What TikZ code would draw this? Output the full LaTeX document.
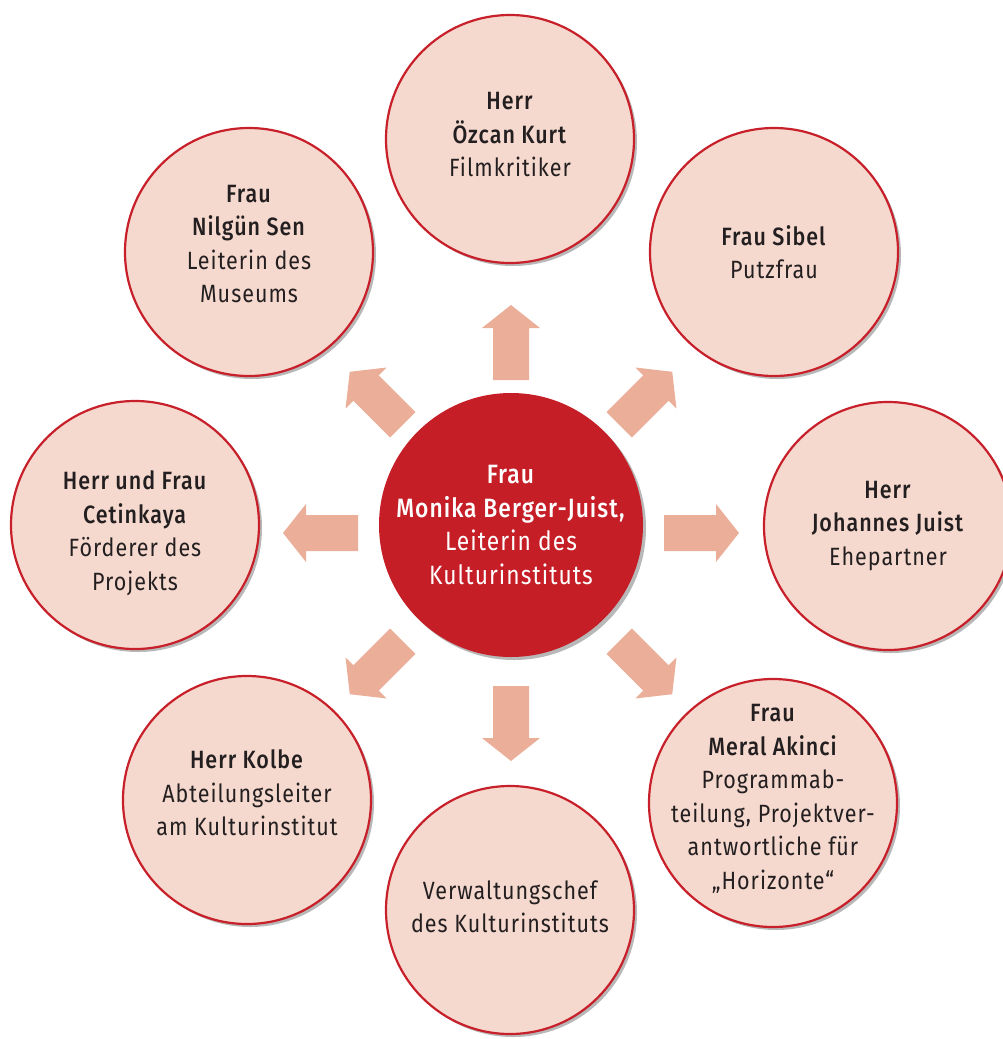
\documentclass[tikz,border=0pt]{standalone}
\usepackage{fontspec}
\setmainfont{Fira Sans}[FakeStretch=0.86, LetterSpace=4, BoldFont={Fira Sans Medium}]
\usetikzlibrary{shadows}
\definecolor{ringred}{HTML}{C8202A}
\definecolor{centerred}{HTML}{C61E26}
\definecolor{pale}{HTML}{F6D9CE}
\definecolor{arrowc}{HTML}{EBAE98}
\definecolor{txt}{HTML}{231F20}
\tikzset{
  soft shadow/.style={drop shadow={shadow xshift=3pt, shadow yshift=-3pt, opacity=0.28, fill=black}},
  person/.style={circle, draw=ringred, line width=2.2pt, fill=pale, minimum size=248pt,
    inner sep=0pt, soft shadow},
  persontext/.style={inner sep=0pt, align=center, text=txt, font=\fontsize{25}{33.5}\selectfont},
  chief/.style={circle, fill=centerred, minimum size=264pt, inner sep=0pt, align=center,
    text=white, font=\fontsize{26.5}{33.5}\selectfont, soft shadow},
  blockarrow/.style={fill=arrowc, draw=none}
}
\begin{document}
\begin{tikzpicture}[x=1pt,y=-1pt]
\useasboundingbox (0,0) rectangle (1002,1039);
% block arrows
\foreach \a in {0,45,...,315}{
  \begin{scope}[shift={(511,533)}, rotate=\a]
    \fill[blockarrow] (153,-18) -- (205,-18) -- (205,-29) -- (228,0) -- (205,29) -- (205,18) -- (153,18) -- cycle;
  \end{scope}
}
\node[chief] (c) at (511,525) {\textbf{Frau}\\\textbf{Monika Berger-Juist,}\\Leiterin des\\Kulturinstituts};
\node[person] (n) at (510,139) {};
\node[person] (ne) at (774,252) {};
\node[person] (e) at (888,526) {};
\node[person] (se) at (773,803) {};
\node[person] (s) at (510,910) {};
\node[person] (sw) at (247,800) {};
\node[person] (w) at (135,525) {};
\node[person] (nw) at (249,252) {};
\node[persontext] (nt) at ([yshift=4pt]n.center) {\textbf{Herr}\\\textbf{Özcan Kurt}\\Filmkritiker};
\node[persontext] (net) at (ne.center) {\textbf{Frau Sibel}\\Putzfrau};
\node[persontext] (et) at (e.center) {\textbf{Herr}\\\textbf{Johannes Juist}\\Ehepartner};
\node[persontext] (set) at ([yshift=4pt]se.center) {\textbf{Frau}\\\textbf{Meral Akinci}\\Programmab-\\teilung, Projektver-\\antwortliche für\\„Horizonte“};
\node[persontext] (st) at ([yshift=3pt]s.center) {Verwaltungschef\\des Kulturinstituts};
\node[persontext] (swt) at ([yshift=7pt]sw.center) {\textbf{Herr Kolbe}\\Abteilungsleiter\\am Kulturinstitut};
\node[persontext] (wt) at ([yshift=-8pt]w.center) {\textbf{Herr und Frau}\\\textbf{Cetinkaya}\\Förderer des\\Projekts};
\node[persontext] (nwt) at ([yshift=8pt]nw.center) {\textbf{Frau}\\\textbf{Nilgün Sen}\\Leiterin des\\Museums};
\end{tikzpicture}
\end{document}
